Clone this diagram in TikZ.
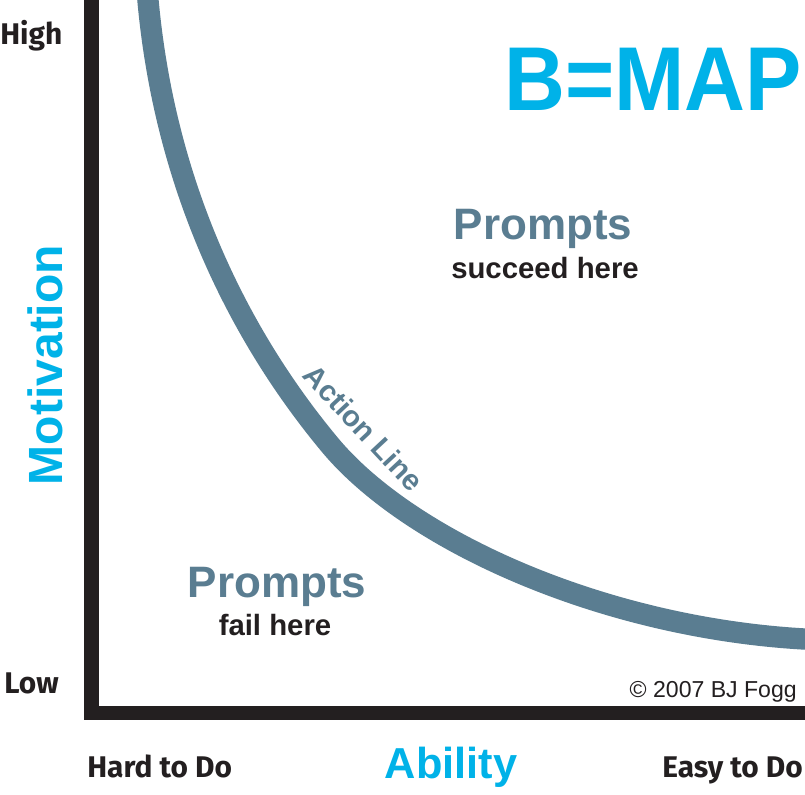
\documentclass[tikz,border=0pt]{standalone}
\usepackage{fontspec}
\setmainfont{Fira Sans}
\newfontfamily\grot{Liberation Sans}
\definecolor{inkblack}{HTML}{231F20}
\definecolor{actionblue}{HTML}{5A7D91}
\definecolor{mapcyan}{HTML}{00B2E8}
\newcommand{\fsz}[1]{\fontsize{#1}{#1}\selectfont}
\tikzset{
  axisline/.style={line width=11, inkblack, line join=miter},
  actioncurve/.style={line width=16, actionblue},
  scalelabel/.style={inner sep=0, font=\bfseries\fsz{22.4pt}, text=inkblack},
  axistitle/.style={inner sep=0, font=\grot\bfseries\fsz{36pt}, text=mapcyan},
  zonehead/.style={inner sep=0, font=\grot\bfseries\fsz{33pt}, text=actionblue},
  zonesub/.style={inner sep=0, font=\grot\bfseries\fsz{22pt}, text=inkblack},
}
\begin{document}
\begin{tikzpicture}[x=0.75pt,y=-0.75pt]
  \useasboundingbox (0,0) rectangle (805,794);
  \clip (0,0) rectangle (805,794);
  \fill[white] (0,0) rectangle (805,794);

  % axes
  \coordinate (ytop) at (91.5,-5);
  \coordinate (origin) at (91.5,713);
  \coordinate (xend) at (810,713);
  \draw[axisline] (ytop) -- (origin) -- (xend);

  % action line: two cubic pieces sharing a tangent at (mid)
  \coordinate (cstart) at (147.5,-5);
  \coordinate (mid) at (330,445);
  \coordinate (cend) at (810,639.3);
  \draw[actioncurve] (cstart) .. controls (165,200) and (250,349) .. (mid)
                     .. controls (410,541) and (605,629) .. (cend);

  \node[inner sep=0, rotate=-47, font=\grot\bfseries\fsz{22pt}, text=actionblue]
    (actionlbl) at (364,428) {Action Line};

  % scale labels
  \node[scalelabel, anchor=base west] (high) at (0,44) {High};
  \node[scalelabel, anchor=base west] (low) at (4,693) {Low};
  \node[scalelabel, anchor=base west] (hard) at (87,777) {Hard to Do};
  \node[scalelabel, anchor=base east] (easy) at (803,777) {Easy to Do};

  % axis titles
  \node[axistitle, anchor=base, rotate=90] (motiv) at (62,365) {Motivation};
  \node[axistitle, anchor=base, font=\grot\bfseries\fsz{32.5pt}] (ability) at (451,778) {Ability};

  % headline
  \node[inner sep=0, anchor=base east, xscale=0.93, font=\grot\bfseries\fsz{68pt}, text=mapcyan]
    (bmap) at (802,110) {B=MAP};

  % zones
  \node[zonehead, anchor=base] (succ) at (543,239) {Prompts};
  \node[zonesub, anchor=base] (succsub) at (545,278) {succeed here};
  \node[zonehead, anchor=base] (fail) at (277,597) {Prompts};
  \node[zonesub, anchor=base] (failsub) at (275,635) {fail here};

  % credit
  \node[inner sep=0, anchor=base east, font=\grot\fsz{17.3pt}, text=inkblack] (credit) at (797,697) {© 2007 BJ Fogg};
\end{tikzpicture}
\end{document}
